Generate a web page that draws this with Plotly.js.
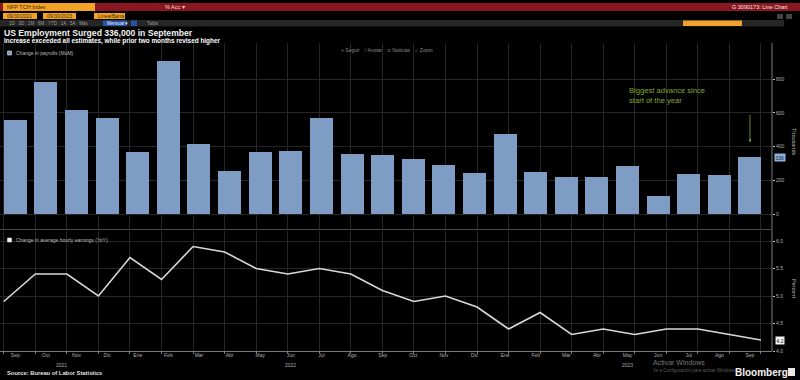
<!DOCTYPE html>
<html>
<head>
<meta charset="utf-8">
<script src="https://cdn.plot.ly/plotly-3.0.1.min.js"></script>
<style>html,body{margin:0;padding:0;background:#000;}#chart{width:800px;height:380px;}</style>
</head>
<body>
<div id="chart"></div>
<script>
// ---- data ----
const periods = ['2021-09','2021-10','2021-11','2021-12','2022-01','2022-02','2022-03','2022-04','2022-05','2022-06','2022-07','2022-08','2022-09','2022-10','2022-11','2022-12','2023-01','2023-02','2023-03','2023-04','2023-05','2023-06','2023-07','2023-08','2023-09'];
const monthLabels = ['Sep','Oct','Nov','Dic','Ene','Feb','Mar','Abr','May','Jun','Jul','Ago','Sep','Oct','Nov','Dic','Ene','Feb','Mar','Abr','May','Jun','Jul','Ago','Sep'];
const payrolls = [560,784,618,570,366,911,416,255,366,372,572,356,352,325,291,242,475,249,218,218,283,107,240,230,336];
const hourlyEarningsYoY = [4.9,5.4,5.4,5.0,5.7,5.3,5.9,5.8,5.5,5.4,5.5,5.4,5.1,4.9,5.0,4.8,4.4,4.7,4.3,4.4,4.3,4.4,4.4,4.3,4.2];
const payrollTicks = [0,200,400,600,800];
const earningsTicks = [4.0,4.5,5.0,5.5,6.0];
const yearLabels = [{text:'2021', at:1.5},{text:'2022', at:9},{text:'2023', at:20}];

// ---- helpers (pixel -> paper) ----
const W = 800, H = 380;
const X = px => px / W;
const Y = px => 1 - px / H;
const idx = periods.map((_, i) => i);
const FONT = 'Liberation Sans, Arial, sans-serif';
const AXR = X(772);

const traces = [
  {type:'bar', x: idx, y: payrolls, xaxis:'x', yaxis:'y', width:0.75,
   marker:{color:'#7f9dc4'}, hoverinfo:'skip', showlegend:false},
  {type:'scatter', mode:'none', x: idx, y: payrolls, xaxis:'x3', yaxis:'y',
   hoverinfo:'skip', showlegend:false},
  {type:'scatter', mode:'lines', x: idx, y: hourlyEarningsYoY, xaxis:'x2', yaxis:'y2',
   line:{color:'#d9d9d9', width:1.6}, hoverinfo:'skip', showlegend:false}
];

const grid = '#262626';
const tickFont = {family: FONT, size: 5, color: '#b0b0b0'};

const shapes = [
  // header row 1
  {type:'rect', xref:'paper', yref:'paper', x0:0, x1:1, y0:Y(11), y1:Y(3), fillcolor:'#8a1620', line:{width:0}, layer:'below'},
  {type:'rect', xref:'paper', yref:'paper', x0:X(3), x1:X(95), y0:Y(11), y1:Y(3), fillcolor:'#f4a227', line:{width:0}},
  // header row 2
  {type:'rect', xref:'paper', yref:'paper', x0:X(3), x1:X(37), y0:Y(19), y1:Y(13), fillcolor:'#f4a227', line:{width:0}},
  {type:'rect', xref:'paper', yref:'paper', x0:X(43), x1:X(76), y0:Y(19), y1:Y(13), fillcolor:'#f4a227', line:{width:0}},
  {type:'rect', xref:'paper', yref:'paper', x0:X(94), x1:X(125), y0:Y(19), y1:Y(13), fillcolor:'#f4a227', line:{width:0}},
  {type:'rect', xref:'paper', yref:'paper', x0:X(777), x1:X(783), y0:Y(19), y1:Y(14), fillcolor:'#444', line:{width:0}},
  {type:'rect', xref:'paper', yref:'paper', x0:X(786), x1:X(792), y0:Y(19), y1:Y(14), fillcolor:'#444', line:{width:0}},
  // header row 3
  {type:'rect', xref:'paper', yref:'paper', x0:0, x1:X(784), y0:Y(26.5), y1:Y(20), fillcolor:'#262626', line:{width:0}, layer:'below'},
  {type:'rect', xref:'paper', yref:'paper', x0:X(103), x1:X(127), y0:Y(26), y1:Y(20.5), fillcolor:'#2854a8', line:{width:0}},
  {type:'rect', xref:'paper', yref:'paper', x0:X(131), x1:X(137), y0:Y(26), y1:Y(20.5), fillcolor:'#2854a8', line:{width:0}},
  {type:'rect', xref:'paper', yref:'paper', x0:X(683), x1:X(742), y0:Y(26), y1:Y(20.5), fillcolor:'#f4a227', line:{width:0}},
  // right axis line through both panels
  {type:'line', xref:'paper', yref:'paper', x0:AXR, x1:AXR, y0:Y(351), y1:Y(43), line:{color:'#7a7a7a', width:1}},
  // separator between panels
  {type:'line', xref:'paper', yref:'paper', x0:0, x1:AXR, y0:Y(229.5), y1:Y(229.5), line:{color:'#4a4a4a', width:1}},
  // legend squares
  {type:'rect', xref:'paper', yref:'paper', x0:X(7.5), x1:X(11.5), y0:Y(55), y1:Y(51), fillcolor:'#7f9dc4', line:{color:'#ddd', width:0.6}},
  {type:'rect', xref:'paper', yref:'paper', x0:X(7.5), x1:X(11.5), y0:Y(242), y1:Y(238), fillcolor:'#f0f0f0', line:{color:'#ddd', width:0.6}},
  // bloomberg icon
  {type:'rect', xref:'paper', yref:'paper', x0:X(788), x1:X(795), y0:Y(376), y1:Y(368), fillcolor:'#e8e8e8', line:{width:0}}
];

const ann = (text, xpx, ypx, opts={}) => Object.assign({
  text, xref:'paper', yref:'paper', x:X(xpx), y:Y(ypx), xanchor:'left', yanchor:'middle',
  showarrow:false, font:{family:FONT, size:5, color:'#bbb'}
}, opts);

const annotations = [
  // header texts
  ann('NFP TCH Index', 5, 7.2, {font:{family:FONT, size:5.5, color:'#3a2a00'}}),
  ann('% Acc ▾', 163, 7.2, {font:{family:FONT, size:5.5, color:'#f2d9d9'}}),
  ann('G 3090173: Line Chart', 790, 7.2, {xanchor:'right', font:{family:FONT, size:5.5, color:'#f2e6e6'}}),
  ann('09/30/2021', 5, 16, {font:{family:FONT, size:5, color:'#3a2a00'}}),
  ann('09/30/2023', 45, 16, {font:{family:FONT, size:5, color:'#3a2a00'}}),
  ann('Línea/Barra', 96, 16, {font:{family:FONT, size:5, color:'#3a2a00'}}),
  ann('1D&nbsp;&nbsp;&nbsp;3D&nbsp;&nbsp;&nbsp;1M&nbsp;&nbsp;&nbsp;6M&nbsp;&nbsp;&nbsp;YTD&nbsp;&nbsp;&nbsp;1A&nbsp;&nbsp;&nbsp;5A&nbsp;&nbsp;&nbsp;Máx', 7, 23.3, {font:{family:FONT, size:4.5, color:'#9a9a9a'}}),
  ann('Mensual ▾', 105, 23.3, {font:{family:FONT, size:4.5, color:'#e6ecff'}}),
  ann('Tabla', 145, 23.3, {font:{family:FONT, size:4.5, color:'#9a9a9a'}}),
  // titles
  ann('<b>US Employment Surged 336,000 in September</b>', 2, 33, {font:{family:FONT, size:8.6, color:'#f2f2f2'}}),
  ann('<b>Increase exceeded all estimates, while prior two months revised higher</b>', 2, 41.5, {font:{family:FONT, size:6.4, color:'#ffffff'}}),
  // legends
  ann('Change in payrolls (MoM)', 14, 53, {font:{family:FONT, size:5, color:'#bdbdbd'}}),
  ann('Change in average hourly earnings (YoY)', 14, 240, {font:{family:FONT, size:5, color:'#bdbdbd'}}),
  // toolbar
  ann('+&nbsp;Seguir&nbsp;&nbsp;&nbsp;&nbsp;⁄&nbsp;Anotar&nbsp;&nbsp;&nbsp;&nbsp;≡&nbsp;Noticias&nbsp;&nbsp;&nbsp;&nbsp;⌕&nbsp;Zoom', 339, 49.5, {font:{family:FONT, size:5, color:'#8a8a8a'}}),
  // axis titles
  ann('Thousands', 794, 141, {xanchor:'center', textangle:90, font:{family:FONT, size:5.5, color:'#bbb'}}),
  ann('Percent', 794, 288, {xanchor:'center', textangle:90, font:{family:FONT, size:5.5, color:'#bbb'}}),
  // callout
  ann('Biggest advance since<br>start of the year', 627, 95, {align:'left', font:{family:FONT, size:7.6, color:'#86a830'}}),
  {xref:'x', yref:'y', x: idx[idx.length-1], y: payrolls[payrolls.length-1] + 90, ax:0, ay:-29,
   text:'', showarrow:true, arrowhead:2, arrowsize:0.7, arrowwidth:0.8, arrowcolor:'#86a830'},
  // last value tags
  {xref:'paper', yref:'y', x:X(773.5), y: payrolls[payrolls.length-1], text:String(payrolls[payrolls.length-1]),
   xanchor:'left', yanchor:'middle', showarrow:false, bgcolor:'#8fb0dc', borderpad:0.5,
   font:{family:FONT, size:5, color:'#0b1a33'}},
  {xref:'paper', yref:'y2', x:X(775), y: hourlyEarningsYoY[hourlyEarningsYoY.length-1], text:hourlyEarningsYoY[hourlyEarningsYoY.length-1].toFixed(1),
   xanchor:'left', yanchor:'middle', showarrow:false, bgcolor:'#f0f0f0', borderpad:0.5,
   font:{family:FONT, size:5, color:'#111'}},
  // source, watermark, logo
  ann('<b>Source: Bureau of Labor Statistics</b>', 5, 373, {font:{family:FONT, size:5.8, color:'#e0e0e0'}}),
  ann('Activar Windows', 651, 362.5, {font:{family:FONT, size:7, color:'#7a7a7a'}}),
  ann('Ve a Configuración para activar Windows.', 651, 370.5, {font:{family:FONT, size:4.5, color:'#5e5e5e'}}),
  ann('<b>Bloomberg</b>', 733, 372, {font:{family:FONT, size:10, color:'#f2f2f2'}})
];
yearLabels.forEach(yl => annotations.push({xref:'x', yref:'paper', x: yl.at, y: Y(364.5), text: yl.text,
  showarrow:false, xanchor:'center', yanchor:'middle', font:{family:FONT, size:5, color:'#a8a8a8'}}));

const layout = {
  width: W, height: H,
  margin:{l:0, r:0, t:0, b:0},
  paper_bgcolor:'#000', plot_bgcolor:'#000',
  showlegend:false,
  bargap:0,
  xaxis:{domain:[0, AXR], range:[-0.5, 24.72], anchor:'free', position: Y(351),
         tickvals: idx, ticktext: monthLabels, tickfont: tickFont, ticks:'', showgrid:false,
         zeroline:false, showline:false, fixedrange:true},
  xaxis3:{overlaying:'x', anchor:'y', range:[-0.12, 24.35], tickvals: idx, showticklabels:false,
          ticks:'', showgrid:true, gridcolor: grid, gridwidth:1, zeroline:false, showline:false},
  yaxis:{domain:[Y(229), Y(43)], range:[(214-229)/0.1684, (214-43)/0.1684], side:'right', anchor:'free', position: AXR,
         tickvals: payrollTicks, tickfont: tickFont, ticks:'outside', ticklen:2, tickcolor:'#bbb',
         showgrid:true, gridcolor: grid, zeroline:false, showline:false},
  xaxis2:{domain:[0, AXR], range:[-0.12, 24.35], anchor:'y2', tickvals: idx, showticklabels:false,
          ticks:'outside', ticklen:2, tickcolor:'#777', showgrid:true, gridcolor: grid,
          zeroline:false, showline:true, linecolor:'#7a7a7a', linewidth:1},
  yaxis2:{domain:[Y(351), Y(231)], range:[4.0, 6.0 + 10/55], side:'right', anchor:'free', position: AXR,
          tickvals: earningsTicks, tickformat:'.1f', tickfont: tickFont, ticks:'outside', ticklen:2, tickcolor:'#bbb',
          showgrid:true, gridcolor: grid, zeroline:false, showline:false},
  shapes, annotations
};

Plotly.newPlot('chart', traces, layout, {staticPlot:true, displayModeBar:false});
</script>
</body>
</html>
